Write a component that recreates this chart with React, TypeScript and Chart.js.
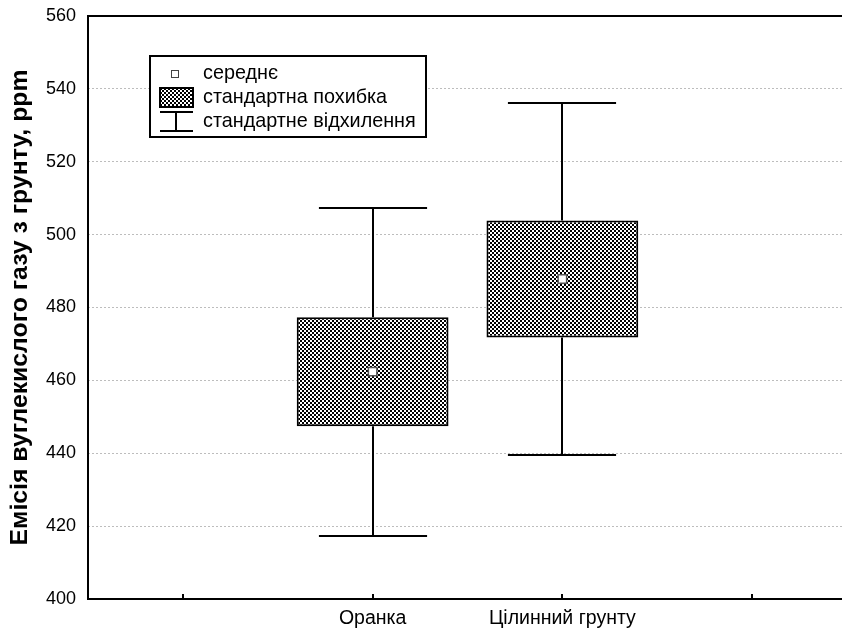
import React, { useEffect, useRef } from 'react';
import { Chart, registerables } from 'chart.js';

Chart.register(...registerables);

// ---- data ----
const categories = ['', 'Оранка', 'Цілинний грунту', ''];
const means = [null, 462.4, 487.8, null];
const seLow = [null, 447.4, 471.8, null];
const seHigh = [null, 477.3, 503.9, null];
const sdLow = [null, 417.4, 439.5, null];
const sdHigh = [null, 507.2, 536.2, null];
const yTicks = [400, 420, 440, 460, 480, 500, 520, 540, 560];
const yTitle = 'Емісія вуглекислого газу з грунту, ppm';
const legendLabels = ['середнє', 'стандартна похибка', 'стандартне відхилення'];

const FONT = "'Liberation Sans', Arial, sans-serif";

function makePattern(ctx: CanvasRenderingContext2D): CanvasPattern | string {
  const n = 4;
  const tile = document.createElement('canvas');
  tile.width = n;
  tile.height = n;
  const t = tile.getContext('2d');
  if (!t) return '#888';
  t.fillStyle = '#fff';
  t.fillRect(0, 0, n, n);
  for (let x = 0; x < n; x++) {
    for (let y = 0; y < n; y++) {
      const cell = ((x >> 1) + (y >> 1)) % 2 === 0;
      if (cell) {
        t.fillStyle = '#000';
        t.fillRect(x, y, 1, 1);
      }
    }
  }
  return ctx.createPattern(tile, 'repeat') || '#888';
}

export default function App() {
  const ref = useRef<HTMLCanvasElement | null>(null);

  useEffect(() => {
    const canvas = ref.current;
    if (!canvas) return;
    const ctx0 = canvas.getContext('2d');
    if (!ctx0) return;
    const pattern = makePattern(ctx0);

    const whiskerPlugin = {
      id: 'whiskers',
      beforeDatasetsDraw(chart: any) {
        const { ctx, scales } = chart;
        const x = scales.x;
        const y = scales.y;
        const slot = x.getPixelForValue(1) - x.getPixelForValue(0);
        const half = slot * 0.285;
        ctx.save();
        ctx.strokeStyle = '#000';
        ctx.lineWidth = 2;
        categories.forEach((_, i) => {
          const hi = sdHigh[i];
          const lo = sdLow[i];
          const bh = seHigh[i];
          const bl = seLow[i];
          if (hi == null || lo == null || bh == null || bl == null) return;
          const px = Math.round(x.getPixelForValue(i));
          const yHi = Math.round(y.getPixelForValue(hi));
          const yLo = Math.round(y.getPixelForValue(lo));
          ctx.beginPath();
          ctx.moveTo(px, yHi);
          ctx.lineTo(px, y.getPixelForValue(bh));
          ctx.moveTo(px, y.getPixelForValue(bl));
          ctx.lineTo(px, yLo);
          ctx.moveTo(px - half, yHi);
          ctx.lineTo(px + half, yHi);
          ctx.moveTo(px - half, yLo);
          ctx.lineTo(px + half, yLo);
          ctx.stroke();
        });
        ctx.restore();
      },
    };

    const framePlugin = {
      id: 'frame',
      afterDraw(chart: any) {
        const { ctx, chartArea, scales } = chart;
        const { left, top, bottom } = chartArea;
        const right = chart.width;
        ctx.save();
        ctx.strokeStyle = '#000';
        ctx.lineWidth = 2;
        ctx.beginPath();
        ctx.moveTo(right, Math.round(top));
        ctx.lineTo(Math.round(left), Math.round(top));
        ctx.lineTo(Math.round(left), Math.round(bottom));
        ctx.lineTo(right, Math.round(bottom));
        // inward tick marks at category centres
        scales.x.ticks.forEach((_: any, i: number) => {
          const px = Math.round(scales.x.getPixelForTick(i));
          ctx.moveTo(px, Math.round(bottom));
          ctx.lineTo(px, Math.round(bottom) - 5);
        });
        ctx.stroke();

        // legend
        const lx = 150, ly = 56, lw = 276, lh = 81;
        ctx.fillStyle = '#fff';
        ctx.fillRect(lx, ly, lw, lh);
        ctx.strokeRect(lx, ly, lw, lh);

        // mean symbol
        ctx.lineWidth = 1;
        ctx.strokeStyle = '#444';
        ctx.fillStyle = '#fff';
        ctx.fillRect(171.5, 70.5, 7, 7);
        ctx.strokeRect(171.5, 70.5, 7, 7);

        // SE swatch
        ctx.fillStyle = pattern as any;
        ctx.fillRect(160, 88, 33, 19);
        ctx.lineWidth = 2;
        ctx.strokeStyle = '#000';
        ctx.strokeRect(160, 88, 33, 19);

        // SD symbol
        ctx.beginPath();
        ctx.moveTo(160, 112);
        ctx.lineTo(193, 112);
        ctx.moveTo(176, 112);
        ctx.lineTo(176, 131);
        ctx.moveTo(160, 131);
        ctx.lineTo(193, 131);
        ctx.stroke();

        ctx.fillStyle = '#000';
        ctx.font = `19.8px ${FONT}`;
        ctx.textBaseline = 'middle';
        ctx.textAlign = 'left';
        const ys = [74, 98, 122];
        legendLabels.forEach((t, i) => ctx.fillText(t, 203, ys[i]));
        ctx.restore();
      },
    };

    const chart = new Chart(canvas, {
      type: 'bar',
      data: {
        labels: categories,
        datasets: [
          {
            type: 'bar',
            label: 'стандартна похибка',
            data: categories.map((_, i) =>
              seLow[i] == null || seHigh[i] == null ? null : [seLow[i] as number, seHigh[i] as number]
            ) as any,
            backgroundColor: pattern as any,
            borderColor: '#000',
            borderWidth: 2,
            borderSkipped: false,
            categoryPercentage: 1,
            barPercentage: 0.8,
            order: 2,
          },
          {
            type: 'line',
            label: 'середнє',
            data: means as any,
            showLine: false,
            pointStyle: 'rect',
            pointRadius: 6,
            pointHoverRadius: 6,
            pointBackgroundColor: '#fff',
            pointBorderColor: '#555',
            pointBorderWidth: 1.5,
            order: 1,
          } as any,
        ],
      },
      options: {
        responsive: false,
        animation: false,
        devicePixelRatio: 1,
        layout: { padding: { left: 0, top: 16, right: 13, bottom: 0 } },
        plugins: {
          legend: { display: false },
          tooltip: { enabled: false },
        },
        scales: {
          x: {
            type: 'category',
            offset: true,
            grid: { display: false, drawTicks: false },
            border: { display: false },
            ticks: {
              color: '#000',
              font: { family: FONT, size: 19.5 },
              padding: 8,
              autoSkip: false,
              maxRotation: 0,
            },
            afterFit: (s: any) => {
              s.height = 34;
              s.paddingLeft = 0;
              s.paddingRight = 0;
            },
          },
          y: {
            min: 400,
            max: 560,
            afterBuildTicks: (s: any) => {
              s.ticks = yTicks.map((v) => ({ value: v }));
            },
            ticks: {
              color: '#000',
              font: { family: FONT, size: 18 },
              padding: 12,
            },
            grid: { drawTicks: false, color: '#bdbdbd', lineWidth: 1 },
            border: { display: false, dash: [2, 2] },
            title: {
              display: true,
              text: yTitle,
              color: '#000',
              font: { family: FONT, size: 24.8, weight: 'bold' },
              padding: { top: 5, bottom: 0 },
            },
            afterFit: (s: any) => {
              s.width = 88;
              s.paddingTop = 0;
              s.paddingBottom = 0;
            },
          },
        },
      },
      plugins: [whiskerPlugin, framePlugin],
    });

    return () => chart.destroy();
  }, []);

  return (
    <div
      style={{
        position: 'fixed',
        left: 0,
        top: 0,
        width: 842,
        height: 633,
        overflow: 'hidden',
        background: '#fff',
      }}
    >
      <canvas ref={ref} width={860} height={633} style={{ display: 'block' }} />
    </div>
  );
}
